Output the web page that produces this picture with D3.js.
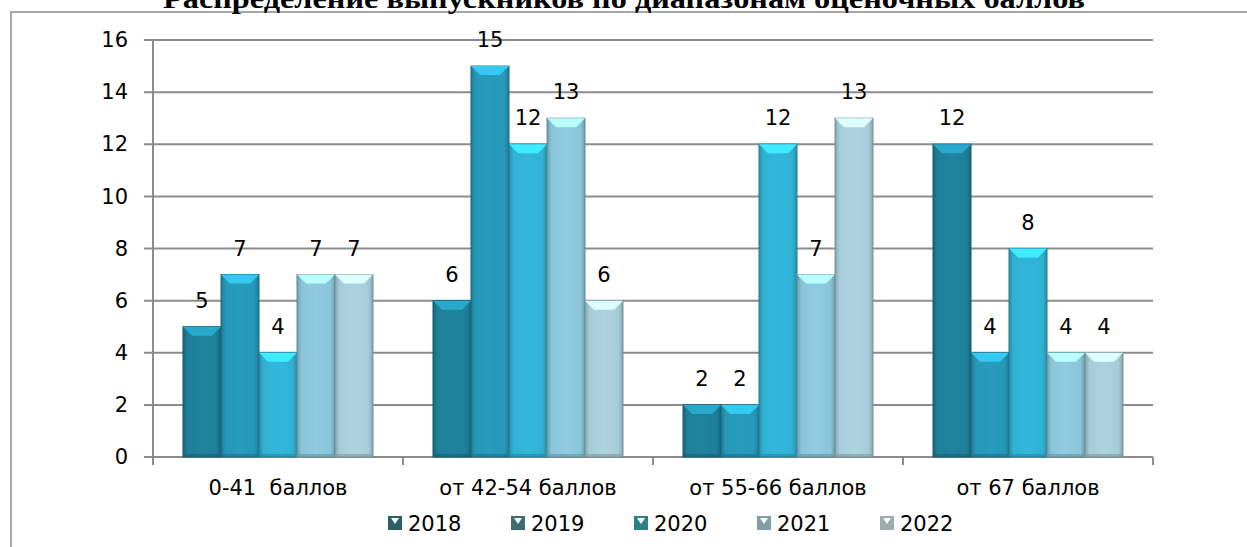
<!DOCTYPE html>
<html>
<head>
<meta charset="utf-8">
<script src="https://cdn.jsdelivr.net/npm/d3@7"></script>
<style>
  body { margin: 0; background: #fff; }
  text { font-family: "DejaVu Sans", sans-serif; }
</style>
</head>
<body>
<svg id="chart"></svg>
<script>
let categories = ["0-41  баллов", "от 42-54 баллов", "от 55-66 баллов", "от 67 баллов"];
let years = ["2018", "2019", "2020", "2021", "2022"];
let v2018 = [5, 6, 2, 12];
let v2019 = [7, 15, 2, 4];
let v2020 = [4, 12, 12, 8];
let v2021 = [7, 13, 7, 4];
let v2022 = [7, 6, 13, 4];
let yTicks = [0, 2, 4, 6, 8, 10, 12, 14, 16];

let series = [v2018, v2019, v2020, v2021, v2022];
let barColors = ["#1e7f99", "#2697b7", "#30b1d4", "#8ac4d9", "#a7ccd9"];
let legendColors = ["#2b6068", "#3c6c71", "#2f7e88", "#809fa7", "#9eabaf"];

function makeChart() {
    let w = 1247, h = 547;
    let svg = d3.select("#chart").attr("width", w).attr("height", h);
    let defs = svg.append("defs");
    let font = "'DejaVu Sans', sans-serif";
    let fs = "21px";

    // frame
    svg.append("path")
        .attr("d", "M11,547 L11,12 L1247,12")
        .attr("fill", "none").attr("stroke", "#8a8a8a").attr("stroke-width", 1.5);

    // title (cut off at top, as in the source)
    svg.append("text")
        .attr("x", 624).attr("y", 8)
        .attr("text-anchor", "middle")
        .attr("textLength", 922).attr("lengthAdjust", "spacingAndGlyphs")
        .style("font-family", "'Liberation Serif', 'Times New Roman', serif")
        .style("font-weight", "bold").style("font-size", "28px")
        .text("Распределение выпускников по диапазонам оценочных баллов");

    let x = d3.scaleBand().domain(categories).range([153, 1153]);
    let xs = d3.scaleBand().domain(years).range([30, 220]);
    let y = d3.scaleLinear().domain([0, 16]).range([457, 40]);

    // grid
    svg.append("g").selectAll("line").data(yTicks).enter().append("line")
        .attr("x1", 144).attr("x2", 1153)
        .attr("y1", d => y(d)).attr("y2", d => y(d))
        .attr("stroke", "#8c8c8c").attr("stroke-width", 2);

    // y axis
    let ya = svg.append("g").attr("transform", "translate(153,0)")
        .call(d3.axisLeft(y).tickValues(yTicks).tickSize(0).tickPadding(25));
    ya.select(".domain").remove();
    ya.append("line").attr("x1", 0).attr("x2", 0).attr("y1", 40).attr("y2", 465)
        .attr("stroke", "#8c8c8c").attr("stroke-width", 2);
    ya.selectAll("text").style("font-size", fs).style("font-family", font)
        .attr("fill", "#000");

    // x axis
    let xa = svg.append("g").attr("transform", "translate(0,457)")
        .call(d3.axisBottom(x).tickSize(0).tickPadding(23));
    xa.select(".domain").remove();
    xa.selectAll("text").style("font-size", fs).style("font-family", font)
        .attr("fill", "#000").style("white-space", "pre");
    let bounds = categories.map(c => x(c)).concat([x(categories[3]) + x.bandwidth()]);
    xa.selectAll("line.tk").data(bounds).enter().append("line").attr("class", "tk")
        .attr("x1", d => d).attr("x2", d => d).attr("y1", 0).attr("y2", 8)
        .attr("stroke", "#8c8c8c").attr("stroke-width", 2);

    // gradients per series
    barColors.forEach((c, i) => {
        let g = defs.append("linearGradient").attr("id", "g" + i)
            .attr("x1", "0").attr("x2", "1").attr("y1", "0").attr("y2", "0");
        let dk = d3.color(c).darker(0.6), lt = d3.color(c).brighter(0.1);
        g.append("stop").attr("offset", "0").attr("stop-color", dk);
        g.append("stop").attr("offset", "0.12").attr("stop-color", c);
        g.append("stop").attr("offset", "0.5").attr("stop-color", lt);
        g.append("stop").attr("offset", "0.88").attr("stop-color", c);
        g.append("stop").attr("offset", "1").attr("stop-color", dk);
    });

    let bars = [];
    categories.forEach((c, ci) => {
        years.forEach((yr, si) => {
            bars.push({ cat: c, year: yr, si: si, v: series[si][ci] });
        });
    });

    let bw = xs.bandwidth();
    let bg = svg.append("g").selectAll("g").data(bars).enter().append("g")
        .attr("transform", d => "translate(" + (x(d.cat) + xs(d.year)) + ",0)");

    bg.append("rect")
        .attr("x", 0).attr("width", bw)
        .attr("y", d => y(d.v)).attr("height", d => y(0) - y(d.v))
        .attr("fill", d => "url(#g" + d.si + ")")
        .attr("stroke", d => d3.color(barColors[d.si]).darker(1))
        .attr("stroke-width", 1);

    // top bevel
    bg.append("path")
        .attr("d", d => {
            let t = y(d.v), b = 9;
            return "M0," + t + " L" + bw + "," + t + " L" + (bw - 9) + "," + (t + b) + " L9," + (t + b) + " Z";
        })
        .attr("fill", d => d3.color(barColors[d.si]).brighter(0.8));

    // bottom shade
    bg.append("rect")
        .attr("x", 1).attr("width", bw - 2)
        .attr("y", y(0) - 3).attr("height", 3)
        .attr("fill", d => d3.color(barColors[d.si]).darker(0.8))
        .attr("opacity", 0.6);

    // value labels
    bg.append("text")
        .attr("x", bw / 2).attr("y", d => y(d.v) - 19)
        .attr("text-anchor", "middle")
        .style("font-size", fs)
        .text(d => d.v);

    // legend
    let lg = svg.append("g").selectAll("g").data(years).enter().append("g")
        .attr("transform", (d, i) => "translate(" + (388 + i * 123) + ",516)");
    lg.append("rect").attr("width", 14).attr("height", 14)
        .attr("fill", (d, i) => legendColors[i]);
    lg.append("path").attr("d", "M3,2 L11,2 L7,8 Z").attr("fill", "#fff");
    lg.append("text").attr("x", 20).attr("y", 15)
        .style("font-size", fs).text(d => d);
}

makeChart();
</script>
</body>
</html>
